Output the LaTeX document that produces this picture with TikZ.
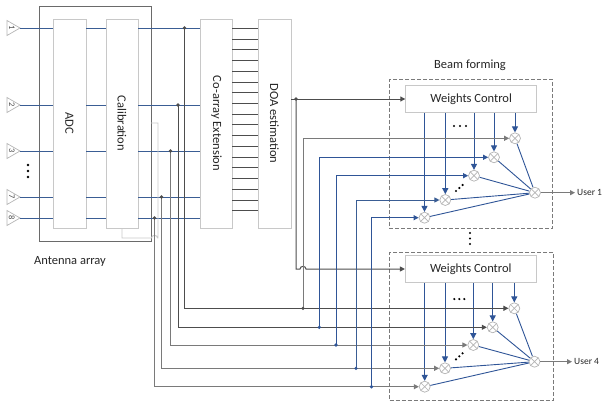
\documentclass[tikz,border=0pt]{standalone}
\usepackage{fontspec}
\setmainfont{Carlito}
\usetikzlibrary{arrows.meta,calc}
\definecolor{boxg}{HTML}{C8C8C8}
\definecolor{og}{HTML}{6A6A6A}
\definecolor{sigb}{HTML}{3A5D94}
\definecolor{arb}{HTML}{2F5597}
\definecolor{dgr}{HTML}{4D4D4D}
\definecolor{mgr}{HTML}{7A7A7A}
\definecolor{cg}{HTML}{B4B4B4}
\definecolor{txt}{HTML}{262626}
\begin{document}
\begin{tikzpicture}[x=1pt,y=-1pt,
  font=\fontsize{12.5}{14}\selectfont,
  blk/.style={draw=boxg, line width=0.8pt, fill=white, inner sep=0pt},
  outerbox/.style={draw=og, line width=0.8pt, inner sep=0pt},
  dashbox/.style={draw=mgr, line width=0.8pt, dash pattern=on 4pt off 2pt, inner sep=0pt},
  sg/.style={draw=sigb, line width=1pt},
  dg/.style={draw=dgr, line width=1pt},
  mg/.style={draw=mgr, line width=1pt},
  bl/.style={draw=arb, line width=0.9pt},
  harr/.style={-{Triangle[length=5pt,width=5pt]}},
  varr/.style={draw=arb, line width=1pt, -{Triangle[length=6pt,width=6pt]}},
  mult/.style={circle, draw=cg, line width=0.7pt, fill=white, minimum size=11pt, inner sep=0pt,
    path picture={\draw[cg, line width=0.7pt] (path picture bounding box.north west) -- (path picture bounding box.south east)
      (path picture bounding box.north east) -- (path picture bounding box.south west);}},
  antc/.style={draw=cg, line width=0.7pt},
  antnum/.style={rotate=-90, font=\fontsize{8.5}{8.5}\selectfont, text=dgr, inner sep=0pt},
  vlab/.style={rotate=-90, text=txt, inner sep=0pt},
  lab/.style={text=txt, inner sep=0pt},
  ulab/.style={text=txt, inner sep=0pt, anchor=west, font=\fontsize{9.5}{11}\selectfont},
  jdot/.style={circle, fill=dgr, minimum size=3.6pt, inner sep=0pt},
  bdot/.style={circle, fill=arb, minimum size=3.6pt, inner sep=0pt}
]
\useasboundingbox (0,0) rectangle (605,405);

% antenna array outer box and processing blocks
\node[outerbox, minimum width=112, minimum height=235] (arr) at (95,123.5) {};
\node[blk, minimum width=33, minimum height=209] (adc) at (69.5,123.5) {};
\node[vlab] (adct) at (69.5,123.5) {ADC};
\node[blk, minimum width=32, minimum height=209] (cal) at (122,123.5) {};
\node[vlab] (calt) at (122,123.5) {Calibration};
\node[blk, minimum width=31.3, minimum height=209] (coa) at (216.3,123.5) {};
\node[vlab] (coat) at (216.3,123.5) {Co-array Extension};
\node[blk, minimum width=33, minimum height=209] (doa) at (274.5,123.5) {};
\node[vlab] (doat) at (274.5,123.5) {DOA estimation};
\node[lab] (arrlab) at (70,261) {Antenna array};

% antennas and their signal lines
\foreach \i/\n/\y in {1/1/28,2/2/105,3/3/151,4/7/197,5/8/218}{
  \draw[antc] (7,\y-7.5) -- (20,\y) -- (7,\y+7.5) -- cycle;
  \node[antnum] (an\i) at (11.8,\y) {\n};
  \coordinate (t\i) at (20,\y);
  \draw[sg] (t\i) -- (t\i -| adc.west);
  \draw[sg] (t\i -| adc.east) -- (t\i -| cal.west);
  \draw[sg] (t\i -| cal.east) -- (t\i -| coa.west);
}
\foreach \yy in {165,171,177}{\fill[black] (28,\yy) circle[radius=1.3pt];}

% co-array -> DOA lines
\foreach \k in {0,...,17}{
  \pgfmathsetmacro{\yy}{28.3+\k*10.73}
  \coordinate (c\k) at (0,\yy);
  \draw[dg, line width=0.8pt] (c\k -| coa.east) -- (c\k -| doa.west);
}

% calibration feedback loop
\coordinate (fb) at (151,123);
\draw[draw=boxg, line width=0.9pt] (fb) -- (158,123) -- (158,238) -- (157.5,238)
  .. controls (157.5,234.5) and (151.5,234.5) .. (151.5,238) -- (122,238) -- (cal.south);

% beam forming blocks
\node[dashbox, minimum width=163.4, minimum height=149] (bf1) at (471,153.8) {};
\node[dashbox, minimum width=163.6, minimum height=148.2] (bf2) at (471.5,326.4) {};
\node[lab] (bflab) at (470,65) {Beam forming};
\node[blk, minimum width=131, minimum height=27] (wc1) at (471.2,99) {};
\node[lab] (wc1t) at (471.2,99) {Weights Control};
\node[blk, minimum width=131, minimum height=27] (wc2) at (470.8,269) {};
\node[lab] (wc2t) at (470.8,269) {Weights Control};

\node[mult] (m11) at (515,138.3) {};
\node[mult] (m12) at (494,157.3) {};
\node[mult] (m13) at (474,175.7) {};
\node[mult] (m14) at (445.3,200) {};
\node[mult] (m15) at (424.5,217.7) {};
\node[mult] (s1) at (535,192.7) {};
\node[mult] (m21) at (514.3,308.3) {};
\node[mult] (m22) at (492.7,327.3) {};
\node[mult] (m23) at (473.3,345) {};
\node[mult] (m24) at (445,368.3) {};
\node[mult] (m25) at (424.7,386.7) {};
\node[mult] (s2) at (534.5,361.7) {};

\foreach \b in {1,2}{
  \foreach \j in {1,...,5}{
    \draw[varr] (wc\b.south -| m\b\j) -- (m\b\j.north);
    \draw[bl] (m\b\j) -- (s\b);
  }
}

% dots inside beam formers
\foreach \xx in {454,460,466}{\fill[black] (\xx,126) circle[radius=1.2pt];}
\foreach \xx in {454.3,459.3,464.3}{\fill[black] (\xx,299) circle[radius=1.2pt];}
\foreach \xx/\yy in {456/191,459.3/188,462.6/185}{
  \fill[black] (\xx,\yy) circle[radius=1.2pt];
  \fill[black] (\xx,\yy+168.3) circle[radius=1.2pt];
}
\foreach \yy in {233,238.5,244}{\fill[black] (470,\yy) circle[radius=1.2pt];}

% outputs
\coordinate (u1) at (575,192.7);
\coordinate (u4) at (572,361.7);
\draw[mg, harr] (s1) -- (u1);
\node[ulab] (u1t) at (577,192.7) {User 1};
\draw[mg, harr] (s2) -- (u4);
\node[ulab] (u4t) at (574,361.7) {User 4};

% DOA output to weights control
\coordinate (do) at (296,99);
\draw[dg] (do -| doa.east) -- (do);
\draw[dg, harr] (do) -- (wc1.west);
\draw[dg, harr] (do) -- (296,269) -- (300,269)
  .. controls (300,265.5) and (306,265.5) .. (306,269) -- (wc2.west);

% taps from the antenna lines to beam former 2
\coordinate (d1) at (184.5,28);
\coordinate (d2) at (178,105);
\coordinate (d3) at (170.5,151);
\coordinate (d4) at (161.5,197);
\coordinate (d5) at (154.5,218);
\draw[dg, harr] (d1) |- (m21.west);
\draw[dg, harr] (d2) |- (m22.west);
\draw[mg, harr] (d3) |- (m23.west);
\draw[mg, harr] (d4) |- (m24.west);
\draw[mg, harr] (d5) |- (m25.west);

% branches up to beam former 1
\coordinate (e1) at (303,308.3);
\coordinate (e2) at (319.3,327.3);
\coordinate (e3) at (336,345);
\coordinate (e4) at (356,368.3);
\coordinate (e5) at (371.5,386.7);
\draw[mg, harr] (e1) |- (m11.west);
\draw[draw=arb, line width=1pt, harr] (e2) |- (m12.west);
\draw[draw=arb, line width=1pt, harr] (e3) |- (m13.west);
\draw[draw=sigb, line width=1pt, harr] (e4) |- (m14.west);
\draw[draw=arb, line width=1pt, harr] (e5) |- (m15.west);

% junction dots
\foreach \p in {d1,d2,d3,d4,d5,e1,do}{\node[jdot] at (\p) {};}
\foreach \p in {e2,e3,e4,e5}{\node[bdot] at (\p) {};}
\end{tikzpicture}
\end{document}
